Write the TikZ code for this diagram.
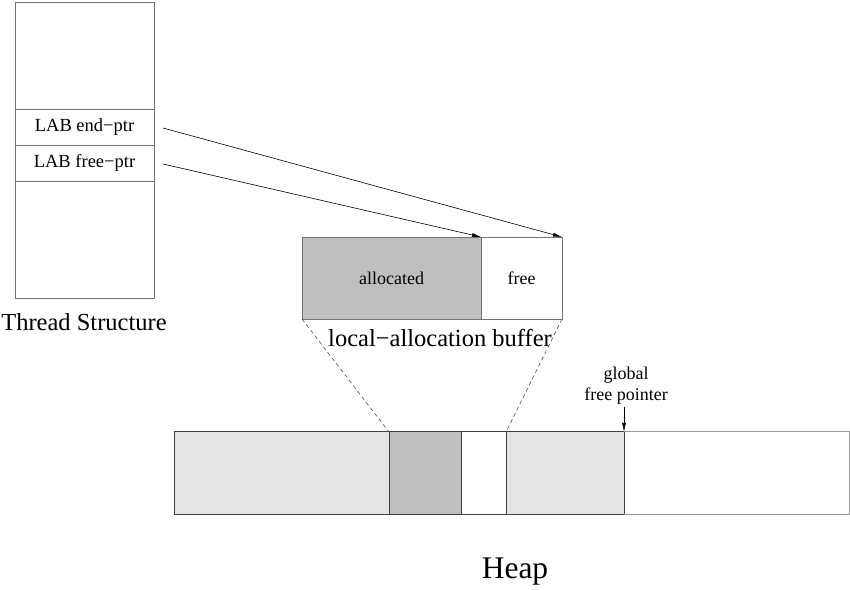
\documentclass[tikz,border=0pt]{standalone}
\usepackage{fontspec}
\setmainfont{Liberation Serif}
\usetikzlibrary{arrows.meta}

\tikzset{
    cell/.style={draw=black!55, line width=0.8pt, inner sep=0pt, outer sep=0pt, anchor=north west},
    heapcell/.style={draw=black!75, line width=1pt, inner sep=0pt, outer sep=0pt, anchor=north west, minimum height=82pt},
    ptr/.style={-{Latex[length=9pt,width=4pt]}, line width=0.6pt},
    zoomline/.style={dashed, dash pattern=on 4pt off 3pt, black!70, line width=0.6pt}
}

\begin{document}
\begin{tikzpicture}[x=1pt, y=1pt]
            \useasboundingbox (0, 0) rectangle (850, 589);

            % Draw the thread structure
            \node[cell, minimum width=139pt, minimum height=107pt] (topcell) at (15, 587) {};
            \node[cell, minimum width=139pt, minimum height=36pt] (endcell) at (topcell.south west)
                {\fontsize{18.5}{21}\selectfont LAB end−ptr\hspace{6pt}};
            \node[cell, minimum width=139pt, minimum height=36pt] (freecell) at (endcell.south west)
                {\fontsize{18.5}{21}\selectfont LAB free−ptr\hspace{6pt}};
            \node[cell, minimum width=139pt, minimum height=117pt] (botcell) at (freecell.south west) {};
            \node (threadlabel) at (84, 267) {\fontsize{24.5}{28}\selectfont Thread Structure};

            % Draw the local-allocation buffer
            \node[cell, fill=black!25, minimum width=179pt, minimum height=82pt] (alloc) at (302, 352)
                {\fontsize{18}{21}\selectfont allocated};
            \node[cell, minimum width=81pt, minimum height=82pt] (free) at (alloc.north east)
                {\fontsize{18}{21}\selectfont free};
            \node (lablabel) at (440, 251) {\fontsize{24.5}{28}\selectfont local−allocation buffer};

            % Draw the pointers into the buffer
            \draw[ptr] ([xshift=9pt, yshift=-1pt]endcell.east) -- (free.north east);
            \draw[ptr] ([xshift=9pt, yshift=-1pt]freecell.east) -- (alloc.north east);

            % Draw the heap
            \node[heapcell, fill=black!10, minimum width=215pt] (heapa) at (174, 157) {};
            \node[heapcell, fill=black!25, minimum width=72pt] (heapb) at (heapa.north east) {};
            \node[heapcell, minimum width=45pt] (heapc) at (heapb.north east) {};
            \node[heapcell, fill=black!10, minimum width=118pt] (heapd) at (heapc.north east) {};
            \node[heapcell, draw=black!40, minimum width=225pt] (heape) at (heapd.north east) {};
            \draw[black!75, line width=1pt] (heape.north west) -- (heape.south west);
            \node (heaplabel) at (515, 17) {\fontsize{31.5}{36}\selectfont Heap};

            % Connect the buffer to its place in the heap
            \draw[zoomline] (alloc.south west) -- (heapb.north west);
            \draw[zoomline] (free.south east) -- (heapc.north east);

            % Add the global free pointer
            \node[align=center, inner sep=0pt, font=\fontsize{18}{21}\selectfont] (globalptr) at (626, 203)
                {global\\ free pointer};
            \coordinate (gptrstart) at (624, 182);
            \draw[ptr] (gptrstart) -- (heape.north west);
\end{tikzpicture}
\end{document}
